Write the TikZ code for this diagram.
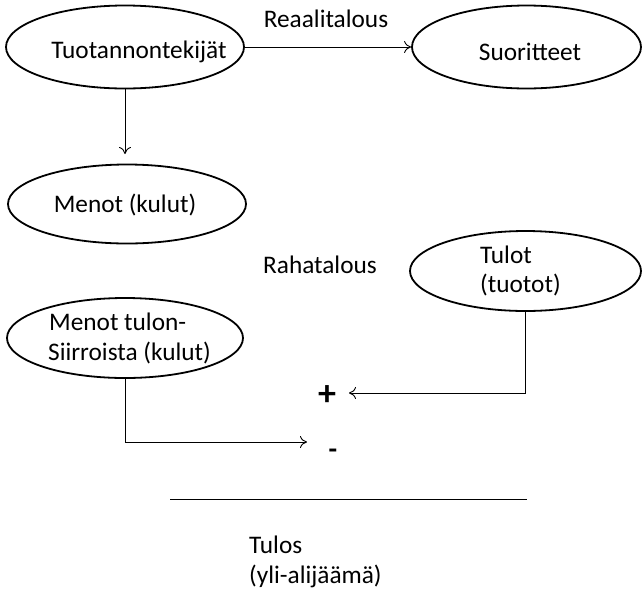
\documentclass[tikz,border=0pt]{standalone}
\usepackage{fontspec}
\setmainfont{Carlito}
\usetikzlibrary{arrows.meta,shapes.geometric}
\begin{document}
\begin{tikzpicture}[x=1pt,y=-1pt,
  ell/.style={draw, line width=1.8pt, ellipse, inner sep=0pt},
  lbl/.style={inner sep=0pt, font=\fontsize{25.3}{30}\selectfont},
  arr/.style={line width=0.9pt, -{To[length=7pt,width=12pt]}},
  ln/.style={line width=0.9pt}]
\useasboundingbox (0,0) rectangle (643,590);
% ellipses
\node[ell, minimum width=238pt, minimum height=83pt] (tuo) at (125,47) {};
\node[ell, minimum width=229pt, minimum height=83pt] (suo) at (526.5,47) {};
\node[ell, minimum width=238pt, minimum height=79pt] (men) at (127,204) {};
\node[ell, minimum width=231pt, minimum height=80pt] (tul) at (525.5,271) {};
\node[ell, minimum width=236pt, minimum height=80pt] (mts) at (125,338) {};
% texts
\node[lbl, anchor=base] (t1) at (139,58) {Tuotannontekijät};
\node[lbl, anchor=base] (t2) at (530,60) {Suoritteet};
\node[lbl, anchor=base] (t3) at (125,212) {Menot (kulut)};
\node[lbl, anchor=base] (ra) at (326,27) {Reaalitalous};
\node[lbl, anchor=base] (rh) at (320,273) {Rahatalous};
\node[lbl, anchor=base west] (t4a) at (480,263) {Tulot};
\node[lbl, anchor=base west] (t4b) at (480,292) {(tuotot)};
\node[lbl, anchor=base west] (t5a) at (49,330) {Menot tulon-};
\node[lbl, anchor=base west] (t5b) at (48,360) {Siirroista (kulut)};
\node[lbl, font=\fontsize{36}{36}\selectfont\bfseries] (plus) at (327,396) {+};
\node[lbl, anchor=base, font=\fontsize{28}{30}\selectfont\bfseries] (minus) at (333,458) {-};
\node[lbl, anchor=base west] (t6a) at (249,553) {Tulos};
\node[lbl, anchor=base west] (t6b) at (249,583) {(yli-alijäämä)};
% free ends
\coordinate (dn) at (125,154);
\coordinate (pin) at (349,393);
\coordinate (min) at (307,442);
\coordinate (l1) at (170,499);
\coordinate (l2) at (527,499);
% connectors
\draw[arr] (tuo.east) -- (suo.west);
\draw[arr] (tuo.south) -- (tuo.south |- dn);
\draw[arr] (tul.south) |- (pin);
\draw[arr] (mts.south) |- (min);
\draw[ln] (l1) -- (l2);
\end{tikzpicture}
\end{document}
